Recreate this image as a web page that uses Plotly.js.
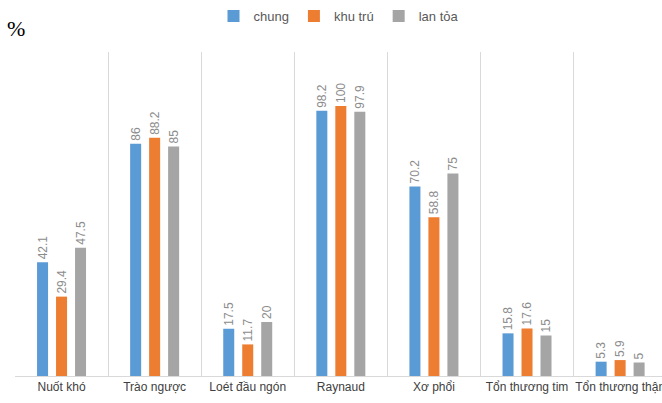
<!DOCTYPE html>
<html>
<head>
<meta charset="utf-8">
<script src="https://cdn.plot.ly/plotly-3.0.1.min.js"></script>
<style>html,body{margin:0;padding:0;overflow:hidden;background:#fff}</style>
</head>
<body>
<div id="chart" style="width:662px;height:403px"></div>
<script>
const categories = ["Nuốt khó", "Trào ngược", "Loét đầu ngón", "Raynaud", "Xơ phổi", "Tổn thương tim", "Tổn thương thận"];
const chung = [42.1, 86, 17.5, 98.2, 70.2, 15.8, 5.3];
const khuTru = [29.4, 88.2, 11.7, 100, 58.8, 17.6, 5.9];
const lanToa = [47.5, 85, 20, 97.9, 75, 15, 5];
const seriesNames = ["chung", "khu trú", "lan tỏa"];
const colors = ["#5B9BD5", "#ED7D31", "#A5A5A5"];

const allValues = [chung, khuTru, lanToa];
const traces = allValues.map((vals, i) => ({
  type: "bar",
  name: seriesNames[i],
  x: categories,
  y: vals,
  text: vals.map(v => String(v)),
  textposition: "outside",
  textangle: -90,
  constraintext: "none",
  cliponaxis: false,
  textfont: {family: "Liberation Sans, Arial, sans-serif", size: 12, color: "#8c8c8c"},
  marker: {color: colors[i]},
  hoverinfo: "none"
}));

const layout = {
  width: 662,
  height: 403,
  margin: {l: 15, r: 0, t: 52, b: 27},
  paper_bgcolor: "#ffffff",
  plot_bgcolor: "#ffffff",
  barmode: "group",
  bargap: 0.388,
  bargroupgap: 0.42,
  showlegend: true,
  legend: {
    orientation: "h",
    x: 0.5, xanchor: "center",
    y: 1.111, yanchor: "middle",
    font: {family: "Liberation Sans, Arial, sans-serif", size: 13, color: "#595959"},
    itemwidth: 30,
    traceorder: "normal"
  },
  xaxis: {
    type: "category",
    range: [-0.5, 6.45],
    tickson: "boundaries",
    tickangle: 0,
    showgrid: true,
    gridcolor: "#d9d9d9",
    gridwidth: 1,
    showline: true,
    linecolor: "#d9d9d9",
    linewidth: 1,
    ticks: "",
    tickfont: {family: "Liberation Sans, Arial, sans-serif", size: 12, color: "#404040"},
    fixedrange: true
  },
  yaxis: {
    range: [0, 120],
    showgrid: false,
    zeroline: false,
    showticklabels: false,
    showline: false,
    ticks: "",
    fixedrange: true
  },
  annotations: [{
    text: "%",
    xref: "paper", yref: "paper",
    x: -0.016, xanchor: "left",
    y: 1.074, yanchor: "middle",
    showarrow: false,
    font: {family: "Liberation Serif, Times New Roman, serif", size: 22, color: "#000000"}
  }]
};

Plotly.newPlot("chart", traces, layout, {displayModeBar: false, staticPlot: true});
</script>
</body>
</html>
